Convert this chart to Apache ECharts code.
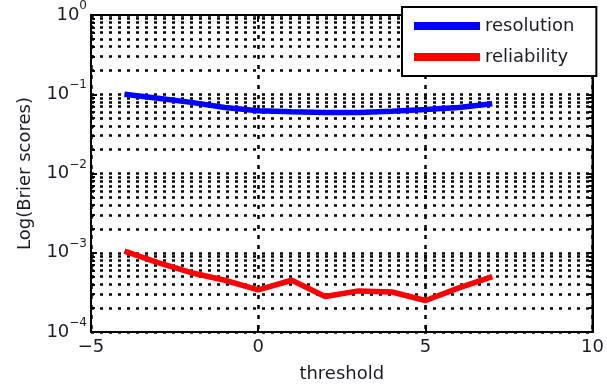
<!DOCTYPE html>
<html>
<head>
<meta charset="utf-8">
<script src="https://cdn.jsdelivr.net/npm/echarts@6/dist/echarts.min.js"></script>
<style>
html,body{margin:0;padding:0;background:#fff;}
#chart{width:607px;height:390px;}
</style>
</head>
<body>
<div id="chart"></div>
<script>
var thresholds = [-4, -3, -2, -1, 0, 1, 2, 3, 4, 5, 6, 7];
var resolution = [0.1, 0.089, 0.079, 0.068, 0.062, 0.060, 0.059, 0.059, 0.061, 0.064, 0.068, 0.076];
var reliability = [0.00105, 0.00075, 0.00056, 0.00045, 0.00034, 0.00045, 0.00028, 0.00033, 0.00032, 0.00025, 0.00036, 0.0005];
var seriesNames = ['resolution', 'reliability'];
var xAxisTitle = 'threshold';
var yAxisTitle = 'Log(Brier scores)';

var FONT = 'DejaVu Sans';
var TXT = '#1c1c28';
var dotted = {color: '#000', width: 2.5, type: [3, 6]};

function pairs(xs, ys) { return xs.map(function (x, i) { return [x, ys[i]]; }); }
function logLabel(v) {
  var e = Math.round(Math.log(v) / Math.LN10);
  return '{b|10}{e|' + (e < 0 ? '\u2212' + (-e) : e) + '}';
}
var richLbl = {
  b: {fontFamily: FONT, fontSize: 18, color: TXT, lineHeight: 30},
  e: {fontFamily: FONT, fontSize: 12, color: TXT, lineHeight: 12, verticalAlign: 'top'}
};

var chart = echarts.init(document.getElementById('chart'), null, {renderer: 'canvas'});
chart.setOption({
  animation: false,
  backgroundColor: '#fff',
  grid: {left: 91, right: 12, top: 11, bottom: 58, show: true, borderColor: '#000', borderWidth: 2, backgroundColor: 'transparent'},
  legend: {
    orient: 'vertical', left: 402, top: 7,
    padding: [9, 22, 9, 12],
    itemGap: 11, itemWidth: 66, itemHeight: 8, icon: 'rect',
    backgroundColor: '#fff', borderColor: '#000', borderWidth: 2,
    textStyle: {fontFamily: FONT, fontSize: 18, color: TXT, lineHeight: 20},
    data: seriesNames
  },
  xAxis: [{
    type: 'value', min: -5, max: 10, interval: 5, position: 'bottom',
    name: xAxisTitle, nameLocation: 'middle', nameGap: 33,
    nameTextStyle: {fontFamily: FONT, fontSize: 18, color: TXT},
    axisLine: {show: true, onZero: false, lineStyle: {color: '#000', width: 2}},
    axisTick: {show: true, inside: true, length: 7, lineStyle: {color: '#000', width: 2}},
    axisLabel: {fontFamily: FONT, fontSize: 18, color: TXT, margin: 6, lineHeight: 18,
      formatter: function (v) { return v < 0 ? '\u2212' + (-v) : String(v); }},
    splitLine: {show: true, lineStyle: {color: '#000', width: 2.5, type: [4, 6]}}
  }, {
    type: 'value', min: -5, max: 10, interval: 5, position: 'top',
    axisLine: {show: true, onZero: false, lineStyle: {color: '#000', width: 2}},
    axisTick: {show: true, inside: true, length: 7, lineStyle: {color: '#000', width: 2}},
    axisLabel: {show: false}, splitLine: {show: false}
  }],
  yAxis: [{
    type: 'log', logBase: 10, min: 1e-4, max: 1, position: 'left',
    name: yAxisTitle, nameLocation: 'middle', nameGap: 57,
    nameTextStyle: {fontFamily: FONT, fontSize: 18, color: TXT},
    axisLine: {show: true, onZero: false, lineStyle: {color: '#000', width: 2}},
    axisTick: {show: true, inside: true, length: 6, lineStyle: {color: '#000', width: 2}},
    minorTick: {show: true, splitNumber: 9, length: 4, lineStyle: {color: '#000', width: 2}},
    axisLabel: {margin: 4, formatter: logLabel, rich: richLbl},
    splitLine: {show: true, lineStyle: dotted},
    minorSplitLine: {show: true, lineStyle: dotted}
  }, {
    type: 'log', logBase: 10, min: 1e-4, max: 1, position: 'right',
    axisLine: {show: true, onZero: false, lineStyle: {color: '#000', width: 2}},
    axisTick: {show: true, inside: true, length: 6, lineStyle: {color: '#000', width: 2}},
    minorTick: {show: true, splitNumber: 9, length: 4, lineStyle: {color: '#000', width: 2}},
    axisLabel: {show: false}, splitLine: {show: false}, minorSplitLine: {show: false}
  }],
  series: [{
    name: seriesNames[0], type: 'line', xAxisIndex: 0, yAxisIndex: 0,
    data: pairs(thresholds, resolution), showSymbol: false, symbol: 'none',
    color: '#0000ff', lineStyle: {color: '#0000ff', width: 5.5}, z: 5
  }, {
    name: seriesNames[1], type: 'line', xAxisIndex: 0, yAxisIndex: 0,
    data: pairs(thresholds, reliability), showSymbol: false, symbol: 'none',
    color: '#ff0000', lineStyle: {color: '#ff0000', width: 5.5}, z: 5
  }]
});
</script>
</body>
</html>
